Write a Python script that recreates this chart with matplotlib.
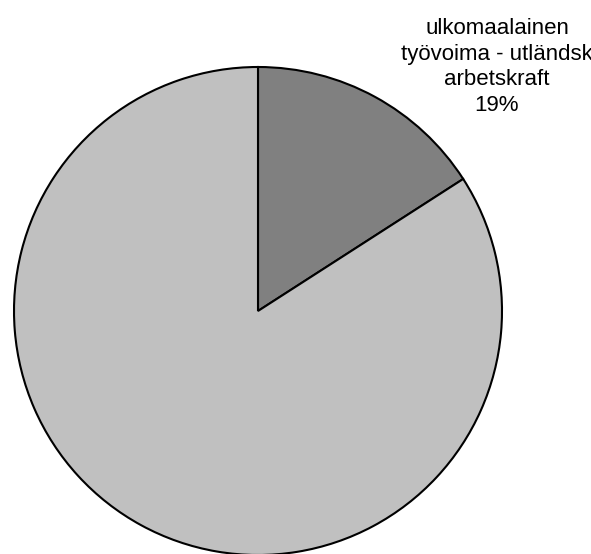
import matplotlib.pyplot as plt

# Slice shares as drawn (degrees of arc), and the label text
categories = ['ulkomaalainen\ntyövoima - utländsk\narbetskraft', 'muu']
shares = [15.9, 84.1]
label_pct = ['19%', '']
colors = ['#808080', '#c0c0c0']

plt.rcParams['font.family'] = ['Liberation Sans', 'DejaVu Sans']

fig = plt.figure(figsize=(5.91, 5.54), dpi=100)
ax = fig.add_axes([0, 0, 1, 1])

ax.pie(shares, colors=colors, startangle=90, counterclock=False,
       radius=244, center=(258, 243),
       wedgeprops={'edgecolor': 'black', 'linewidth': 1.5})
ax.set_xlim(0, 591)
ax.set_ylim(0, 554)
ax.axis('off')

# label for the dark slice, placed top right like the original
ax.text(497, 554 - 67, categories[0] + '\n' + label_pct[0], ha='center', va='center',
        fontsize=16, linespacing=1.3, clip_on=False)

fig.savefig('out.png', dpi=100)
